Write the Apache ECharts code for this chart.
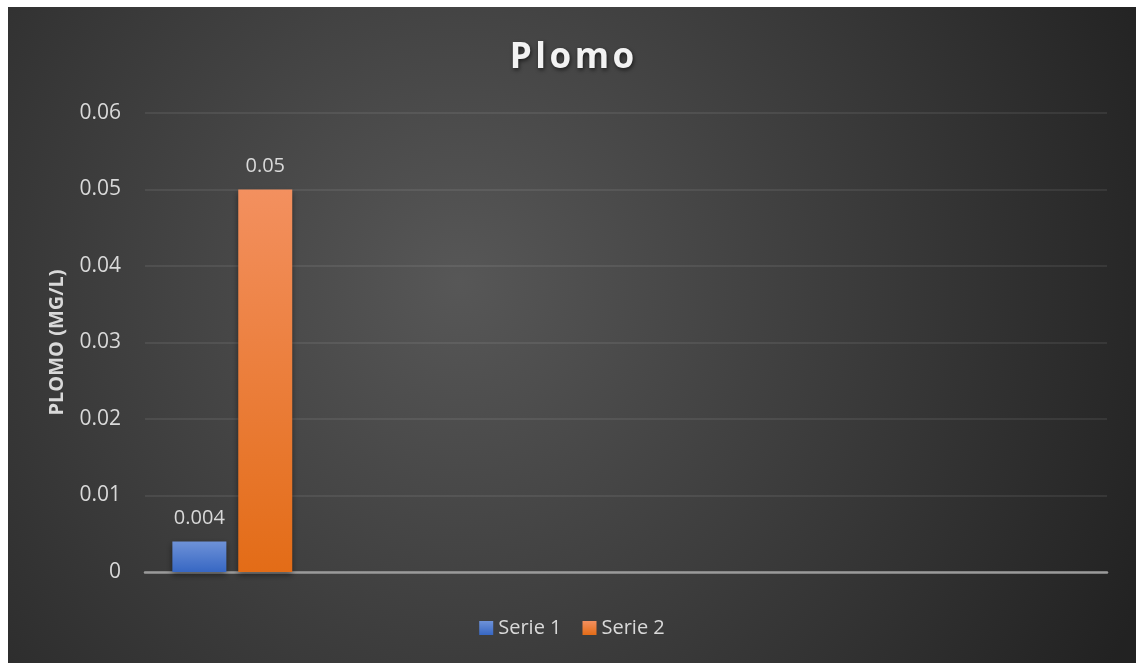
<!DOCTYPE html>
<html>
<head>
<meta charset="utf-8">
<script src="https://cdn.jsdelivr.net/npm/echarts@6/dist/echarts.min.js"></script>
<style>
  html, body { margin: 0; padding: 0; background: #ffffff; width: 1141px; height: 663px; overflow: hidden; }
  #chart { position: absolute; left: 8px; top: 7px; width: 1128px; height: 656px; }
</style>
</head>
<body>
<div id="chart"></div>
<script>
// Lead concentration readings (mg/L)
const categories = ['Categoría 1', 'Categoría 2', 'Categoría 3', 'Categoría 4'];
const serie1 = [0.004, null, null, null];
const serie2 = [0.05, null, null, null];
const serie3 = [null, null, null, null];   // empty series, kept for the column layout
const yTicks = { min: 0, max: 0.06, interval: 0.01 };

const FONT = '"Open Sans", "Noto Sans", sans-serif';
const TEXT = '#d9d9d9';

function vGrad(top, bottom) {
  return new echarts.graphic.LinearGradient(0, 0, 0, 1, [
    { offset: 0, color: top },
    { offset: 1, color: bottom }
  ]);
}
const blue = vGrad('#6e92d8', '#3767c3');
const orange = vGrad('#f3905f', '#e36c17');

const barShadow = {
  shadowBlur: 6,
  shadowOffsetY: 3,
  shadowColor: 'rgba(0,0,0,0.45)'
};
const valueLabel = {
  show: true,
  position: 'top',
  distance: 13,
  color: TEXT,
  fontFamily: FONT,
  fontSize: 20
};

const chart = echarts.init(document.getElementById('chart'), null, { renderer: 'canvas' });
chart.setOption({
  animation: false,
  backgroundColor: {
    type: 'radial', x: 0.4, y: 0.42, r: 1.15,
    colorStops: [
      { offset: 0, color: '#575757' },
      { offset: 1, color: '#222222' }
    ]
  },
  title: {
    text: 'P\u200Al\u200Ao\u200Am\u200Ao',
    left: 'center',
    top: 29,
    textStyle: {
      color: '#f2f2f2',
      fontFamily: FONT,
      fontWeight: 'bold',
      fontSize: 35,
      textShadowColor: 'rgba(0,0,0,0.6)',
      textShadowBlur: 4,
      textShadowOffsetX: 1,
      textShadowOffsetY: 2
    }
  },
  legend: {
    data: ['Serie 1', 'Serie 2'],
    left: 'center',
    top: 606,
    icon: 'rect',
    itemWidth: 14,
    itemHeight: 14,
    itemGap: 21,
    textStyle: { color: TEXT, fontFamily: FONT, fontSize: 20 }
  },
  grid: { left: 137, right: 29, top: 106, bottom: 91, containLabel: false },
  xAxis: {
    type: 'category',
    data: categories,
    axisLine: { show: true, lineStyle: { color: '#9a9a9a', width: 2.5 } },
    axisTick: { show: false },
    axisLabel: { show: false },
    splitLine: { show: false }
  },
  yAxis: {
    type: 'value',
    min: yTicks.min,
    max: yTicks.max,
    interval: yTicks.interval,
    name: 'PLOMO (MG/L)',
    nameLocation: 'middle',
    nameGap: 78,
    nameRotate: 90,
    nameTextStyle: { color: TEXT, fontFamily: FONT, fontWeight: 'bold', fontSize: 20 },
    axisLine: { show: false },
    axisTick: { show: false },
    axisLabel: { color: TEXT, fontFamily: FONT, fontSize: 21, margin: 24 },
    splitLine: { lineStyle: { color: 'rgba(255,255,255,0.10)', width: 1.5 } }
  },
  series: [
    {
      name: 'Serie 1', type: 'bar', data: serie1,
      barWidth: 54, barGap: '22%',
      itemStyle: Object.assign({ color: blue }, barShadow),
      label: valueLabel
    },
    {
      name: 'Serie 2', type: 'bar', data: serie2,
      barWidth: 54, barGap: '22%',
      itemStyle: Object.assign({ color: orange }, barShadow),
      label: valueLabel
    },
    {
      name: 'Serie 3', type: 'bar', data: serie3,
      barWidth: 54, barGap: '22%',
      itemStyle: { color: '#a5a5a5' }
    }
  ]
});
</script>
</body>
</html>
